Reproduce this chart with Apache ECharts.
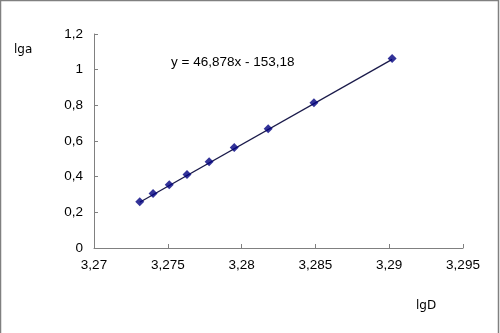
<!DOCTYPE html>
<html>
<head>
<meta charset="utf-8">
<script src="https://cdn.jsdelivr.net/npm/echarts@6/dist/echarts.min.js"></script>
<style>html,body{margin:0;padding:0;background:#fff}#c{width:500px;height:333px}</style>
</head>
<body>
<div id="c"></div>
<script>
const xValues = [3.2731, 3.2740, 3.2751, 3.2763, 3.2778, 3.2795, 3.2818, 3.2849, 3.2902];
const yValues = [0.259, 0.306, 0.354, 0.412, 0.483, 0.563, 0.668, 0.814, 1.062];
const slope = 46.878;
const intercept = -153.18;
const equationText = 'y = 46,878x - 153,18';
const xName = 'lgD';
const yName = 'lga';

const points = xValues.map((x, i) => [x, yValues[i]]);
const xMin = Math.min(...xValues), xMax = Math.max(...xValues);
const trend = [[xMin, slope * xMin + intercept], [xMax, slope * xMax + intercept]];
const fmt = v => String(+v.toFixed(4)).replace('.', ',');

const chart = echarts.init(document.getElementById('c'), null, {renderer: 'canvas'});
chart.setOption({
  animation: false,
  backgroundColor: '#fff',
  grid: {left: 94, right: 37, top: 34, bottom: 85},
  xAxis: {
    type: 'value', min: 3.27, max: 3.295, interval: 0.005,
    axisLine: {lineStyle: {color: '#808080', width: 1}},
    axisTick: {inside: true, length: 4, lineStyle: {color: '#808080'}},
    splitLine: {show: false},
    axisLabel: {formatter: fmt, color: '#000', fontFamily: 'Liberation Sans', fontSize: 13.5, margin: 10}
  },
  yAxis: {
    type: 'value', min: 0, max: 1.2, interval: 0.2,
    axisLine: {show: true, lineStyle: {color: '#808080', width: 1}},
    axisTick: {show: true, inside: true, length: 4, lineStyle: {color: '#808080'}},
    splitLine: {show: false},
    axisLabel: {formatter: fmt, color: '#000', fontFamily: 'Liberation Sans', fontSize: 13.5, margin: 11}
  },
  series: [
    {type: 'line', data: trend, symbol: 'none', lineStyle: {color: '#1a1a4a', width: 1.3}, z: 2},
    {type: 'scatter', data: points, symbol: 'diamond', symbolSize: 9, itemStyle: {color: '#000080'}, z: 3}
  ],
  graphic: [
    {type: 'rect', shape: {x: 0.5, y: 0.5, width: 498, height: 340}, style: {fill: 'none', stroke: '#808080', lineWidth: 1.5}},
    {type: 'text', left: 14, top: 44, style: {text: yName, font: '12px "DejaVu Sans"', fill: '#000'}},
    {type: 'text', left: 416, top: 300, style: {text: xName, font: '12px "DejaVu Sans"', fill: '#000'}},
    {type: 'text', left: 171, top: 55, style: {text: equationText, font: '13.5px "Liberation Sans"', fill: '#000'}}
  ]
});
</script>
</body>
</html>
